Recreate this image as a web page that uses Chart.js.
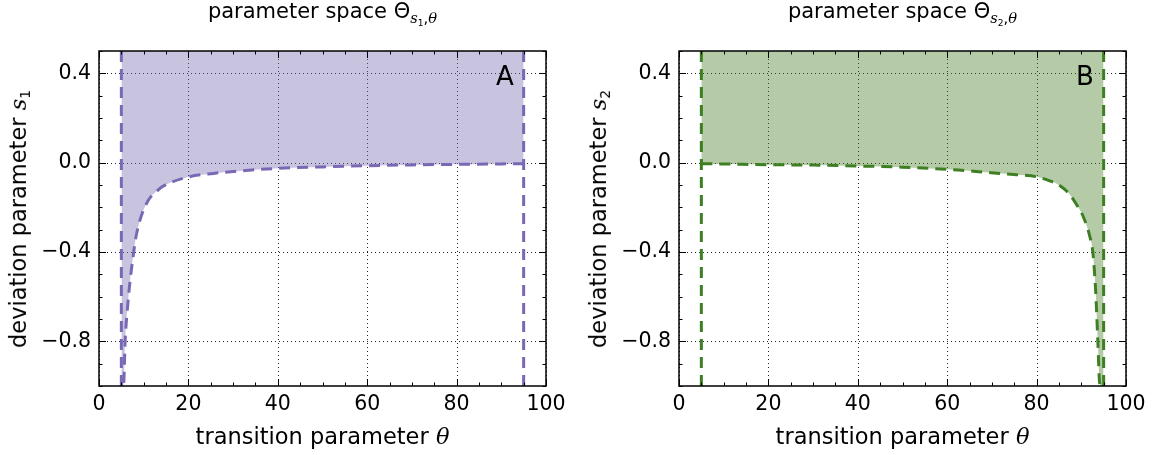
<!DOCTYPE html>
<html>
<head>
<meta charset="utf-8">
<script src="https://cdn.jsdelivr.net/npm/chart.js@4"></script>
<style>
    html, body { margin: 0; padding: 0; background: #fff; }
    #wrap { position: relative; width: 1153px; height: 455px; font-family: "DejaVu Sans", sans-serif; color: #000; overflow: hidden; }
    #wrap canvas { position: absolute; top: 0; }
    .lbl { position: absolute; white-space: nowrap; line-height: 1; }
    .m { font-family: "DejaVu Serif", serif; font-style: italic; }
    .sub { font-size: 0.62em; vertical-align: -0.3em; }
</style>
</head>
<body>
<div id="wrap">
    <canvas id="chartA"></canvas>
    <canvas id="chartB"></canvas>
</div>
<script>
    'use strict';

    // axis ticks
    var xMajorTicks = [0, 20, 40, 60, 80, 100];
    var xTickLabels = ['0', '20', '40', '60', '80', '100'];
    var yMajorTicks = [-0.8, -0.4, 0.0, 0.4];
    var yTickLabels = ['\u22120.8', '\u22120.4', '0.0', '0.4'];

    // boundary theta values (vertical dashed lines)
    var thetaBounds = [5, 95];

    // panel A: lower boundary of s1
    var thetaA = [5.02, 5.25, 5.5, 5.85, 6.5, 7.0, 7.7, 8.2, 9.2, 10.7, 11.7, 12.9, 14.2, 15.9, 20.2, 25.6, 31.5, 40, 50, 60, 70, 80, 90, 95];
    var sA = [-30, -1.5, -1.0, -0.8, -0.62, -0.52, -0.41, -0.34, -0.255, -0.18, -0.15, -0.128, -0.107, -0.09, -0.063, -0.048, -0.037, -0.0255, -0.019, -0.0135, -0.01, -0.0075, -0.0055, -0.0045];

    // panel B: lower boundary of s2
    var thetaB = [5, 10, 20, 30, 40, 50, 62.5, 69.8, 75, 80, 82.5, 84.8, 86.3, 87.7, 89, 90.4, 91.9, 92.6, 93.2, 93.7, 94.1, 94.5, 94.98];
    var sB = [-0.0045, -0.006, -0.009, -0.011, -0.015, -0.02, -0.033, -0.045, -0.053, -0.063, -0.078, -0.0975, -0.12, -0.15, -0.19, -0.24, -0.33, -0.405, -0.57, -0.8, -0.985, -1.5, -30];

    function pts(xs, ys) {
        return xs.map(function(x, i) {
            return { x: x, y: ys[i] };
        });
    }

    var framePlugin = {
        id: 'frame',
        beforeDatasetsDraw: function(chart) {
            var ctx = chart.ctx,
                a = chart.chartArea,
                xs = chart.scales.x,
                ys = chart.scales.y;
            ctx.save();
            ctx.strokeStyle = 'rgba(0,0,0,0.85)';
            ctx.lineWidth = 1;
            ctx.setLineDash([1, 3]);
            xMajorTicks.forEach(function(v) {
                var px = Math.round(xs.getPixelForValue(v)) + 0.5;
                ctx.beginPath();
                ctx.moveTo(px, a.top);
                ctx.lineTo(px, a.bottom);
                ctx.stroke();
            });
            yMajorTicks.forEach(function(v) {
                var py = Math.round(ys.getPixelForValue(v)) + 0.5;
                ctx.beginPath();
                ctx.moveTo(a.left, py);
                ctx.lineTo(a.right, py);
                ctx.stroke();
            });
            ctx.restore();
        },
        afterDatasetsDraw: function(chart) {
            var ctx = chart.ctx,
                a = chart.chartArea,
                xs = chart.scales.x,
                ys = chart.scales.y,
                v, px, py, len;
            ctx.save();
            ctx.strokeStyle = '#000';
            ctx.lineWidth = 1;
            ctx.setLineDash([]);
            // x ticks, top and bottom, pointing in
            for (v = 0; v <= 100; v += 5) {
                len = (v % 20 === 0) ? 7 : 3.5;
                px = Math.round(xs.getPixelForValue(v)) + 0.5;
                ctx.beginPath();
                ctx.moveTo(px, a.bottom);
                ctx.lineTo(px, a.bottom - len);
                ctx.moveTo(px, a.top);
                ctx.lineTo(px, a.top + len);
                ctx.stroke();
            }
            // y ticks every 0.1, majors every 0.4
            for (v = -10; v <= 5; v += 1) {
                len = (v % 4 === 0) ? 7 : 3.5;
                py = Math.round(ys.getPixelForValue(v / 10)) + 0.5;
                ctx.beginPath();
                ctx.moveTo(a.left, py);
                ctx.lineTo(a.left + len, py);
                ctx.moveTo(a.right, py);
                ctx.lineTo(a.right - len, py);
                ctx.stroke();
            }
            ctx.lineWidth = 1.5;
            ctx.strokeRect(a.left, a.top, a.right - a.left, a.bottom - a.top);
            ctx.restore();
        }
    };

    function makeChart(id, left, width, yWidth, padRight, thetas, svals, lineColor, fillColor) {
        var canvas = document.getElementById(id);
        canvas.style.left = left + 'px';
        canvas.style.width = width + 'px';
        canvas.style.height = '455px';
        canvas.width = width;
        canvas.height = 455;

        var dashed = {
            borderColor: lineColor,
            borderWidth: 3,
            borderDash: [11, 7],
            pointRadius: 0,
            fill: false,
            clip: 0
        };

        return new Chart(canvas, {
            type: 'line',
            data: {
                datasets: [
                    Object.assign({}, dashed, {
                        data: pts(thetas, svals),
                        fill: 'end',
                        backgroundColor: fillColor,
                        cubicInterpolationMode: 'monotone'
                    }),
                    Object.assign({}, dashed, {
                        data: pts([thetaBounds[0], thetaBounds[0]], [-1, 0.5])
                    }),
                    Object.assign({}, dashed, {
                        data: pts([thetaBounds[1], thetaBounds[1]], [-1, 0.5])
                    })
                ]
            },
            options: {
                responsive: false,
                animation: false,
                devicePixelRatio: 1,
                layout: {
                    padding: { left: 0, right: padRight, top: 51, bottom: 0 }
                },
                plugins: {
                    legend: { display: false },
                    tooltip: { enabled: false },
                    title: { display: false }
                },
                scales: {
                    x: {
                        type: 'linear',
                        min: 0,
                        max: 100,
                        grid: { display: false, drawTicks: false },
                        border: { display: false },
                        afterBuildTicks: function(scale) {
                            scale.ticks = xMajorTicks.map(function(v) { return { value: v }; });
                        },
                        afterFit: function(scale) {
                            scale.height = 69;
                        },
                        ticks: {
                            padding: 6,
                            color: '#000',
                            maxRotation: 0,
                            font: { family: 'DejaVu Sans', size: 20.5 },
                            callback: function(value, index) {
                                return xTickLabels[index];
                            }
                        }
                    },
                    y: {
                        type: 'linear',
                        min: -1,
                        max: 0.5,
                        grid: { display: false, drawTicks: false },
                        border: { display: false },
                        afterBuildTicks: function(scale) {
                            scale.ticks = yMajorTicks.map(function(v) { return { value: v }; });
                        },
                        afterFit: function(scale) {
                            scale.width = yWidth;
                        },
                        ticks: {
                            padding: 8,
                            color: '#000',
                            font: { family: 'DejaVu Sans', size: 20.5 },
                            callback: function(value, index) {
                                return yTickLabels[index];
                            }
                        }
                    }
                }
            },
            plugins: [framePlugin]
        });
    }

    function addLabel(html, style) {
        var d = document.createElement('div');
        d.className = 'lbl';
        d.innerHTML = html;
        Object.keys(style).forEach(function(k) { d.style[k] = style[k]; });
        document.getElementById('wrap').appendChild(d);
        return d;
    }

    function decorate(chart, left, idx, letter) {
        var a = chart.chartArea;
        var cx = left + (a.left + a.right) / 2;
        var cy = (a.top + a.bottom) / 2;

        addLabel('parameter space \u0398<span class="sub" style="font-size:0.7em;vertical-align:-0.35em"><span class="m">s</span><span class="sub">' + idx + '</span>,<span class="m">\u03b8</span></span>', {
            left: cx + 'px', top: '1px', fontSize: '21px', transform: 'translateX(-50%)'
        });
        addLabel('transition parameter <span class="m">\u03b8</span>', {
            left: cx + 'px', top: '425px', fontSize: '22.5px', transform: 'translateX(-50%)'
        });
        addLabel('deviation parameter <span class="m">s</span><span class="sub">' + idx + '</span>', {
            left: (left + a.left - 79.5) + 'px', top: cy + 'px', fontSize: '22.5px',
            transform: 'translate(-50%, -50%) rotate(-90deg)'
        });
        addLabel(letter, {
            left: (left + a.right - 50) + 'px', top: (a.top + 12) + 'px', fontSize: '26px'
        });
    }

    var chartA = makeChart('chartA', 0, 576, 99, 30, thetaA, sA, '#7a68b4', 'rgba(117,107,177,0.4)');
    var chartB = makeChart('chartB', 576, 577, 103, 27, thetaB, sB, '#3d7f22', 'rgba(70,122,35,0.4)');

    decorate(chartA, 0, '1', 'A');
    decorate(chartB, 576, '2', 'B');
</script>
</body>
</html>
